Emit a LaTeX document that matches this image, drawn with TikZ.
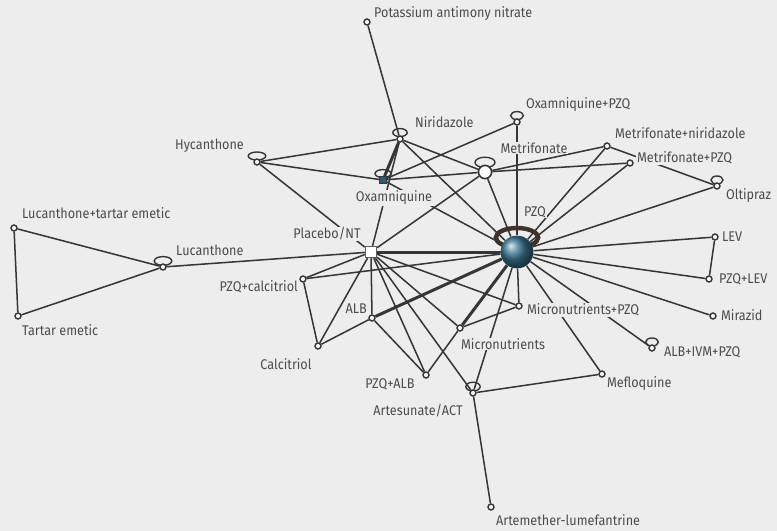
\documentclass[tikz,border=0pt]{standalone}
\usepackage{fontspec}
\setmainfont{Fira Sans}[FakeStretch=0.9]
\usetikzlibrary{shapes.geometric}
\definecolor{nmabg}{HTML}{EDEDED}
\definecolor{nmaline}{HTML}{363636}
\definecolor{nmatext}{HTML}{4C4C4C}
\definecolor{nmapzq}{HTML}{3A7592}
\definecolor{nmaoxa}{HTML}{2E5B73}
\definecolor{nmaloop}{HTML}{3E322C}
\pgfdeclarelayer{bgl}
\pgfdeclarelayer{edgel}
\pgfsetlayers{bgl,edgel,main}

\begin{document}
\begin{tikzpicture}[
  x=0.25mm, y=-0.25mm,
  every node/.style={font=\fontsize{10}{12}\selectfont, text=nmatext},
  drug/.style={circle, draw=nmaline, fill=nmabg!60!white, line width=0.35mm, minimum size=1.5mm, inner sep=0pt},
  tag/.style={fill=nmabg, inner sep=0.6pt},
  link/.style={draw=nmaline, line width=0.38mm},
  heavy/.style={draw=nmaline, line width=0.75mm},
  selfloop/.style={draw=nmaline, line width=0.35mm},
]
\useasboundingbox (0,0) rectangle (777,531);
\begin{pgfonlayer}{bgl}
\fill[nmabg] (0,0) rectangle (777,531);
\end{pgfonlayer}

% Treatments
\node[drug] (pan) at (367,22) {};
\node[drug] (nir) at (400,139) {};
\node[drug] (oxpzq) at (517,122) {};
\node[drug] (hyc) at (257,162) {};
\node[rectangle, draw=nmaline, fill=nmaoxa, minimum size=1.8mm, inner sep=0pt] (oxa) at (383,180) {};
\node[circle, draw=nmaline, fill=white, line width=0.4mm, minimum size=3.3mm, inner sep=0pt] (met) at (485,172) {};
\node[drug] (metnir) at (607,146) {};
\node[drug] (metpzq) at (630,163) {};
\node[drug] (olt) at (717,186) {};
\node[circle, shade, ball color=nmapzq, minimum size=8.2mm, inner sep=0pt] (pzq) at (517,252) {};
\node[drug] (lev) at (715,237) {};
\node[drug] (pzqlev) at (709,279) {};
\node[drug] (mir) at (713,316) {};
\node[drug] (aip) at (652,348) {};
\node[drug] (mef) at (602,374) {};
\node[drug] (micpzq) at (519,306) {};
\node[drug] (mic) at (460,328) {};
\node[drug] (art) at (473,393) {};
\node[drug] (artlum) at (491,507) {};
\node[drug] (pzqalb) at (426,375) {};
\node[drug] (alb) at (372,318) {};
\node[drug] (calc) at (318,346) {};
\node[drug] (pzqcalc) at (303,279) {};
\node[rectangle, draw=nmaline!80, fill=white, line width=0.3mm, minimum size=2.8mm, inner sep=0pt] (plac) at (371,252) {};
\node[drug] (luc) at (163,267) {};
\node[drug] (lucte) at (14,228) {};
\node[drug] (te) at (18,316) {};

% Names
\node[tag, anchor=west] (pantag) at (373,14) {Potassium antimony nitrate};
\node[tag, anchor=west] (nirtag) at (414,122) {Niridazole};
\node[tag, anchor=west] (oxpzqtag) at (525,105) {Oxamniquine+PZQ};
\node[tag, anchor=east] (hyctag) at (245,146) {Hycanthone};
\node[tag] (oxatag) at (394,198) {Oxamniquine};
\node[tag] (mettag) at (534,148) {Metrifonate};
\node[tag, anchor=west] (metnirtag) at (614,133) {Metrifonate+niridazole};
\node[tag, anchor=west] (metpzqtag) at (636,158) {Metrifonate+PZQ};
\node[tag, anchor=west] (olttag) at (725,196) {Oltipraz};
\node[tag] (pzqtag) at (535,212) {PZQ};
\node[tag, anchor=west] (levtag) at (721,237) {LEV};
\node[tag, anchor=west] (pzqlevtag) at (718,279) {PZQ+LEV};
\node[tag, anchor=west] (mirtag) at (720,315) {Mirazid};
\node[tag, anchor=west] (aiptag) at (663,352) {ALB+IVM+PZQ};
\node[tag, anchor=west] (meftag) at (606,384) {Mefloquine};
\node[tag, anchor=west] (micpzqtag) at (526,310) {Micronutrients+PZQ};
\node[tag, anchor=west] (mictag) at (460,344) {Micronutrients};
\node[tag] (arttag) at (418,411) {Artesunate/ACT};
\node[tag, anchor=west] (artlumtag) at (495,520) {Artemether-lumefantrine};
\node[tag] (pzqalbtag) at (390,384) {PZQ+ALB};
\node[tag, anchor=east] (albtag) at (368,309) {ALB};
\node[tag] (calctag) at (286,364) {Calcitriol};
\node[tag, anchor=east] (pzqcalctag) at (299,287) {PZQ+calcitriol};
\node[tag] (plactag) at (327,234) {Placebo/NT};
\node[tag, anchor=west] (luctag) at (175,250) {Lucanthone};
\node[tag, anchor=west] (lucteatag) at (21,213) {Lucanthone+tartar emetic};
\node[tag, anchor=west] (tetag) at (21,330) {Tartar emetic};

\begin{pgfonlayer}{edgel}
% Comparisons
\draw[link] (pan) -- (nir);
\draw[link] (hyc) -- (nir);
\draw[link] (hyc) -- (oxa);
\draw[link] (hyc) -- (plac);
\draw[heavy] (nir) -- (oxa);
\draw[link] (nir) -- (plac);
\draw[link] (nir) -- (met);
\draw[link] (nir) -- (pzq);
\draw[link] (oxa) -- (met);
\draw[link] (oxa) -- (oxpzq);
\draw[link] (oxa) -- (pzq);
\draw[link] (oxpzq) -- (pzq);
\draw[link] (met) -- (plac);
\draw[link] (met) -- (pzq);
\draw[link] (met) -- (metnir);
\draw[link] (met) -- (metpzq);
\draw[link] (metnir) -- (pzq);
\draw[link] (metnir) -- (olt);
\draw[link] (metpzq) -- (pzq);
\draw[link] (olt) -- (pzq);
\draw[link] (pzq) -- (lev);
\draw[link] (lev) -- (pzqlev);
\draw[link] (pzq) -- (pzqlev);
\draw[link] (pzq) -- (mir);
\draw[link] (pzq) -- (aip);
\draw[link] (pzq) -- (mef);
\draw[link] (pzq) -- (micpzq);
\draw[heavy] (pzq) -- (mic);
\draw[link] (mic) -- (pzqalb);
\draw[link] (pzq) -- (art);
\draw[heavy] (pzq) -- (alb);
\draw[link] (alb) -- (calc);
\draw[link] (pzq) -- (pzqcalc);
\draw[heavy] (pzq) -- (plac);
\draw[link] (plac) -- (luc);
\draw[link] (plac) -- (pzqcalc);
\draw[link] (plac) -- (calc);
\draw[link] (plac) -- (alb);
\draw[link] (plac) -- (pzqalb);
\draw[link] (plac) -- (art);
\draw[link] (plac) -- (mic);
\draw[link] (plac) -- (micpzq);
\draw[link] (pzqcalc) -- (calc);
\draw[link] (alb) -- (pzqalb);
\draw[link] (mic) -- (micpzq);
\draw[link] (art) -- (mef);
\draw[link] (art) -- (artlum);
\draw[link] (luc) -- (lucte);
\draw[link] (luc) -- (te);
\draw[link] (lucte) -- (te);

% Within-treatment loops
\draw[selfloop] ([yshift=1.6mm]nir.center) ellipse (1.8mm and 1mm);
\draw[selfloop] ([yshift=1.6mm]oxpzq.center) ellipse (1.6mm and 1mm);
\draw[selfloop] ([yshift=1.5mm]hyc.center) ellipse (2.2mm and 1mm);
\draw[selfloop] ([yshift=1.6mm]oxa.center) ellipse (2mm and 1mm);
\draw[selfloop] ([yshift=2.4mm]met.center) ellipse (2.5mm and 1.3mm);
\draw[selfloop] ([yshift=1.5mm]olt.center) ellipse (1.5mm and 1mm);
\draw[selfloop] ([yshift=1.5mm]luc.center) ellipse (2.2mm and 1.1mm);
\draw[selfloop] ([yshift=1.5mm]aip.center) ellipse (1.6mm and 1mm);
\draw[selfloop] ([yshift=1.6mm]art.center) ellipse (1.8mm and 1.1mm);
\draw[draw=nmaloop, line width=1.1mm] ([yshift=3.6mm]pzq.center) ellipse (5.3mm and 2.4mm);
\end{pgfonlayer}

\end{tikzpicture}
\end{document}
